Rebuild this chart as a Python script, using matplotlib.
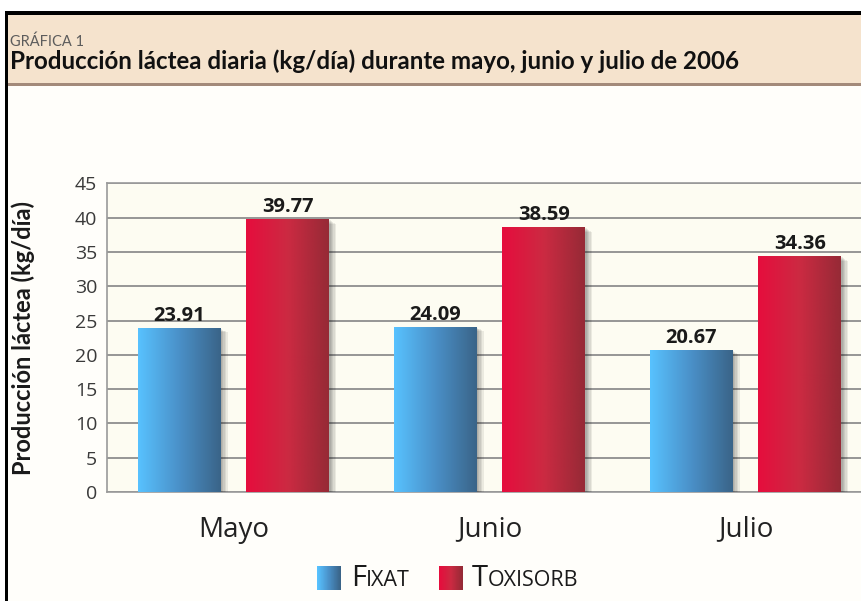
import matplotlib

matplotlib.use("Agg")

import matplotlib.pyplot as plt
import numpy as np
from matplotlib import patheffects as pe
from matplotlib.colors import LinearSegmentedColormap
from matplotlib.offsetbox import AnnotationBbox, HPacker, OffsetImage, TextArea
from matplotlib.patches import Rectangle

months = ["Mayo", "Junio", "Julio"]
fixat = [23.91, 24.09, 20.67]
toxisorb = [39.77, 38.59, 34.36]
series_names = ["Fixat", "Toxisorb"]
yticks = list(range(0, 50, 5))

header_small = "GRÁFICA 1"
header_title = "Producción láctea diaria (kg/día) durante mayo, junio y julio de 2006"
ylabel = "Producción láctea (kg/día)"

BODY = ["Open Sans", "DejaVu Sans"]
NARROW = ["Lato", "DejaVu Sans"]

blue_cmap = LinearSegmentedColormap.from_list("blue", ["#58c2ff", "#4a90c8", "#3a6488"])
red_cmap = LinearSegmentedColormap.from_list("red", ["#e60d3d", "#cc2a42", "#962a36"])

fig = plt.figure(figsize=(8.62, 6.01), dpi=100)
fig.patch.set_facecolor("white")

# page frame and header band
W, H = 862, 601
def fx(px):
    return px / W
def fy(px):
    return 1 - px / H

fig.patches.append(Rectangle((fx(7), 0), 1, fy(14), transform=fig.transFigure,
                             facecolor="#fffefa", edgecolor="none", zorder=-5))
fig.patches.append(Rectangle((fx(7), fy(83)), 1, fy(14) - fy(83), transform=fig.transFigure,
                             facecolor="#f5e3cd", edgecolor="none", zorder=-4))
fig.patches.append(Rectangle((fx(7), fy(85.5)), 1, fy(82.5) - fy(85.5), transform=fig.transFigure,
                             facecolor="#a38a7a", edgecolor="none", zorder=-3))
fig.patches.append(Rectangle((fx(5), fy(14.5)), 1, fy(11) - fy(14.5), transform=fig.transFigure,
                             facecolor="black", edgecolor="none", zorder=-2))
fig.patches.append(Rectangle((fx(5), 0), fx(3), fy(11), transform=fig.transFigure,
                             facecolor="black", edgecolor="none", zorder=-2))

fig.text(fx(10), fy(46), header_small, fontsize=10.5, color="#5c5c5c", family=NARROW, va="baseline")
fig.text(fx(10), fy(69), header_title, fontsize=17.4, fontweight="bold", color="#111111",
         family=NARROW, va="baseline")

ax = fig.add_axes([fx(107), fy(492), 1 - fx(107), fy(183.5) - fy(492)])
ax.set_zorder(5)
ax.set_facecolor("#fdfcf2")

x = np.arange(len(months))
width = 0.324
offset = 0.212

shadow = [pe.SimplePatchShadow(offset=(d, -d * 0.6), shadow_rgbFace="black", alpha=0.07)
          for d in (1, 2, 3, 4, 5)] + [pe.Normal()]

grad = np.linspace(0, 1, 256).reshape(1, -1)
for vals, cmap, dx in ((fixat, blue_cmap, -offset), (toxisorb, red_cmap, offset)):
    bars = ax.bar(x + dx, vals, width, color=cmap(0.5), zorder=3, path_effects=shadow)
    for b, v in zip(bars, vals):
        x0 = b.get_x()
        im = ax.imshow(grad, cmap=cmap, extent=[x0, x0 + width, 0, v], aspect="auto", zorder=4)
        im.set_clip_path(b)
        ax.annotate(f"{v:.2f}", (x0 + width / 2, v), xytext=(0, 5), textcoords="offset points",
                    ha="center", va="baseline", fontsize=14.5, fontweight="bold",
                    color="#1a1a1a", family=BODY, zorder=5)

ax.set_xlim(-0.494, 2.455)
ax.set_ylim(0, 45)
ax.set_yticks(yticks)
ax.set_yticklabels([str(t) for t in yticks], fontsize=14, color="#3a3a3a", family=BODY)
ax.set_xticks(x)
ax.set_xticklabels(months, fontsize=20, color="#222222", family=BODY)
ax.tick_params(axis="both", length=0)
ax.tick_params(axis="y", pad=7)
ax.tick_params(axis="x", pad=17)
ax.yaxis.grid(True, color="#8e8e8e", linewidth=1.3)
ax.set_axisbelow(True)
for side in ("left", "bottom", "top"):
    ax.spines[side].set_color("#9a9a9a")
    ax.spines[side].set_linewidth(1.2)
ax.spines["right"].set_visible(False)

ax.set_ylabel(ylabel, fontsize=17, fontweight="bold", color="#1a1a1a", family=NARROW)
ax.yaxis.set_label_coords(-0.095, 0.5)

# legend with gradient swatches and small caps text
def swatch(cmap):
    arr = np.tile(np.linspace(0, 1, 17), (17, 1))
    return OffsetImage(cmap(arr), zoom=1.0)

def smallcaps(name):
    first = TextArea(name[0].upper(), textprops=dict(fontsize=21, color="#1a1a1a", family=BODY))
    rest = TextArea(name[1:].upper(), textprops=dict(fontsize=15.5, color="#1a1a1a", family=BODY))
    return HPacker(children=[first, rest], sep=0, pad=0, align="baseline")

entries = []
for name, cmap in zip(series_names, (blue_cmap, red_cmap)):
    entries.append(HPacker(children=[swatch(cmap), smallcaps(name)], sep=7, pad=0, align="center"))
legend = HPacker(children=entries, sep=21, pad=0, align="center")
ab = AnnotationBbox(legend, (fx(448), fy(578)), xycoords="figure fraction", frameon=False,
                    box_alignment=(0.5, 0.5))
ab.set_zorder(6)
fig.add_artist(ab)

fig.savefig("out.png", dpi=100, facecolor=fig.get_facecolor())
